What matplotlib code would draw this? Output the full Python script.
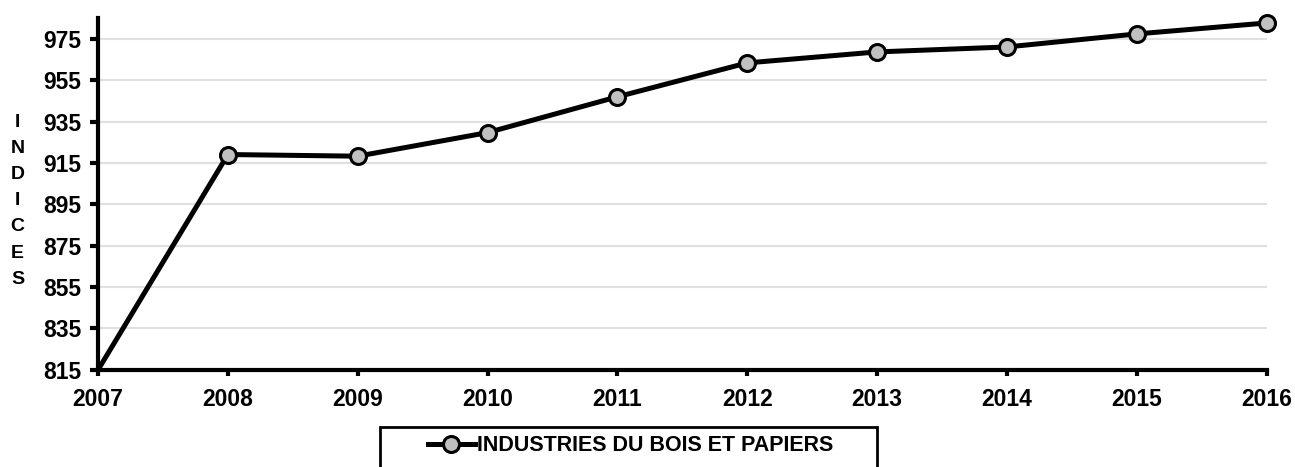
import matplotlib
matplotlib.use("Agg")
import matplotlib.pyplot as plt
from matplotlib.patches import Rectangle

# données
annees = [2007, 2008, 2009, 2010, 2011, 2012, 2013, 2014, 2015, 2016]
indices = [815, 919.1, 918.3, 929.7, 947.0, 963.4, 968.7, 971.1, 977.4, 982.7]
serie = "INDUSTRIES DU BOIS ET PAPIERS"
yticks = [815, 835, 855, 875, 895, 915, 935, 955, 975]

plt.rcParams['font.family'] = ['Liberation Sans', 'DejaVu Sans']
plt.rcParams['font.weight'] = 'bold'

fig = plt.figure(figsize=(12.95, 4.67), dpi=100)
ax = fig.add_axes([0.0757, 0.208, 0.9023, 0.753])

ax.plot(annees, indices, color='black', lw=3.6, marker='o', ms=11.5,
        mfc='#c0c0c0', mec='black', mew=2.2, markevery=list(range(1, len(annees))),
        label=serie, clip_on=False, zorder=3)

ax.set_xlim(2007, 2016)
ax.set_ylim(815, 985)
ax.set_xticks(annees)
ax.set_yticks(yticks)
ax.tick_params(axis='both', labelsize=16.5, width=3, direction='out')
ax.tick_params(axis='y', length=6, pad=6)
ax.tick_params(axis='x', length=4, pad=9)
for lab in ax.get_xticklabels() + ax.get_yticklabels():
    lab.set_fontweight('bold')

# grille horizontale
ax.grid(axis='y', color='#e0e0e0', lw=1.5)
ax.set_axisbelow(True)
for s in ['top', 'right']:
    ax.spines[s].set_visible(False)
for s in ['left', 'bottom']:
    ax.spines[s].set_linewidth(3)

# titre vertical de l'axe
fig.text(0.0135, 0.57, "I\nN\nD\nI\nC\nE\nS", ha='center', va='center',
         fontsize=14, fontweight='bold', linespacing=1.7)

# cadre de la légende
fig.patches.append(Rectangle((380 / 1295, -0.05), 497 / 1295, 0.05 + 40 / 467,
                             transform=fig.transFigure, fill=False,
                             edgecolor='black', lw=2, clip_on=False))
leg = fig.legend(loc='center', bbox_to_anchor=(0.487, 0.045), frameon=False,
                 fontsize=15.5, handlelength=2.2, handletextpad=0.1)
for t in leg.get_texts():
    t.set_fontweight('bold')

plt.savefig("out.png", dpi=100)
plt.close("all")
